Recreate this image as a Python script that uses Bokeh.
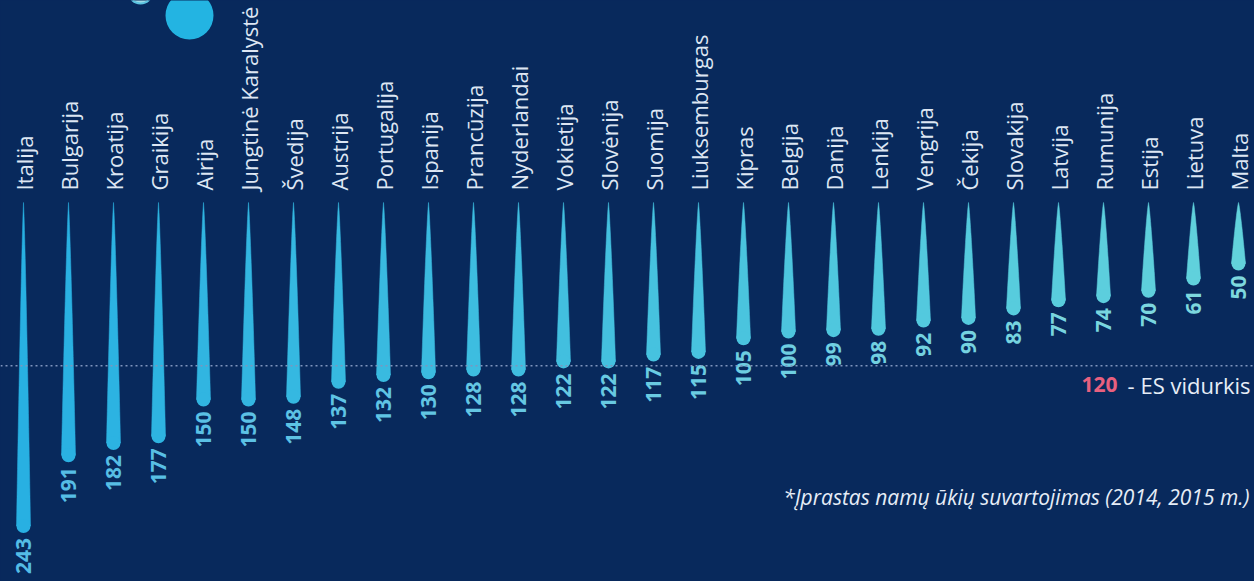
import numpy as np
from bokeh.plotting import figure
from bokeh.models import Range1d, ColumnDataSource, Span, GlobalInlineStyleSheet
from bokeh.core.properties import value
from bokeh.embed import file_html
from bokeh.resources import INLINE

# ---- data ----
countries = ["Italija", "Bulgarija", "Kroatija", "Graikija", "Airija", "Jungtinė Karalystė",
             "Švedija", "Austrija", "Portugalija", "Ispanija", "Prancūzija", "Nyderlandai",
             "Vokietija", "Slovėnija", "Suomija", "Liuksemburgas", "Kipras", "Belgija",
             "Danija", "Lenkija", "Vengrija", "Čekija", "Slovakija", "Latvija", "Rumunija",
             "Estija", "Lietuva", "Malta"]
values = [243, 191, 182, 177, 150, 150, 148, 137, 132, 130, 128, 128, 122, 122, 117, 115,
          105, 100, 99, 98, 92, 90, 83, 77, 74, 70, 61, 50]
eu_average = 120
eu_label = "- ES vidurkis"
footnote = "*Įprastas namų ūkių suvartojimas (2014, 2015 m.)"

# ---- style / layout ----
BG = "#08295c"
W, H = 1254, 581
PX_PER_COL = 45.0
PX_PER_UNIT = 1.36
X0_PX = 23.0     # screen x of first column
Y0_PX = 202.0    # screen y of the drops' tips
FONT = "Open Sans"
n = len(values)
idx = np.arange(n)

x_start = -X0_PX / PX_PER_COL
x_end = x_start + W / PX_PER_COL
y_top = -Y0_PX / PX_PER_UNIT
y_bot = y_top + H / PX_PER_UNIT

def lerp_col(c0, c1, t):
    return "#%02x%02x%02x" % tuple(int(round(a + (b - a) * t)) for a, b in zip(c0, c1))

ts = idx / (n - 1)
drop_cols = [lerp_col((40, 176, 226), (98, 210, 220), t) for t in ts]
lab_cols = [lerp_col((84, 188, 230), (126, 216, 222), t) for t in ts]

R_PX = 7.0
hw = R_PX / PX_PER_COL
ru = R_PX / PX_PER_UNIT

xs, ys = [], []
for i, v in zip(idx, values):
    tt = np.linspace(0, 1, 24)
    wv = hw * tt ** 0.8
    yy = (v - ru) * tt
    xs.append(list(i - wv) + list(i + wv[::-1]))
    ys.append(list(yy) + list(yy[::-1]))

src = ColumnDataSource(dict(x=idx, v=values, vc=[v - ru for v in values],
                            name=countries, lab=[str(v) for v in values],
                            dc=drop_cols, lc=lab_cols, xs=xs, ys=ys, zero=[0] * n))

p = figure(width=W, height=H, x_range=Range1d(x_start, x_end), y_range=Range1d(y_bot, y_top),
           output_backend="svg", toolbar_location=None, x_axis_location=None,
           y_axis_location=None, min_border=0, background_fill_color=BG,
           border_fill_color=BG, outline_line_color=None)
p.grid.visible = False
p.stylesheets = [GlobalInlineStyleSheet(css="body{background:%s;margin:0;}" % BG)]

# decorative droplets at top (ornament, not data)
p.scatter(x=[(140 - X0_PX) / PX_PER_COL], y=[(-9 - Y0_PX) / PX_PER_UNIT],
          size=24, fill_color="#9fdce6", line_color="#5cc3e0", line_width=2)
p.scatter(x=[(189 - X0_PX) / PX_PER_COL], y=[(15 - Y0_PX) / PX_PER_UNIT],
          size=48, fill_color="#23b4e2", line_color=None)

# mean line
p.add_layout(Span(location=eu_average, dimension="width", line_color="#7f95bd",
                  line_dash="2 3", line_width=1.5))

# drops
p.patches(xs="xs", ys="ys", source=src, fill_color="dc", line_color="dc", line_width=0.5)
p.scatter(x="x", y="vc", source=src, size=2 * R_PX, fill_color="dc", line_color=None)

# country names
p.text(x="x", y="zero", text="name", source=src, angle=np.pi / 2, text_align="left",
       text_baseline="middle", y_offset=-12, text_color="#dde6f3", text_font_size="22px",
       text_font=value(FONT))

# value labels
p.text(x="x", y="v", text="lab", source=src, angle=np.pi / 2, text_align="right",
       text_baseline="middle", y_offset=5, text_color="lc", text_font_size="21px",
       text_font=value(FONT), text_font_style="bold")

# mean label
p.text(x=[x_end], y=[eu_average], text=[eu_label], text_align="right", text_baseline="middle",
       x_offset=-4, y_offset=19, text_color="#e6edf7", text_font_size="22px",
       text_font=value(FONT))
p.text(x=[x_end], y=[eu_average], text=[str(eu_average)], text_align="right",
       text_baseline="middle", x_offset=-137, y_offset=19, text_color="#e8607f",
       text_font_size="21px", text_font=value(FONT), text_font_style="bold")

# footnote
p.text(x=[x_end], y=[eu_average], text=[footnote], text_align="right", text_baseline="middle",
       x_offset=-5, y_offset=131, text_color="#e6edf7", text_font_size="21px",
       text_font=value(FONT), text_font_style="italic")

open("out.html", "w").write(file_html(p, INLINE))
